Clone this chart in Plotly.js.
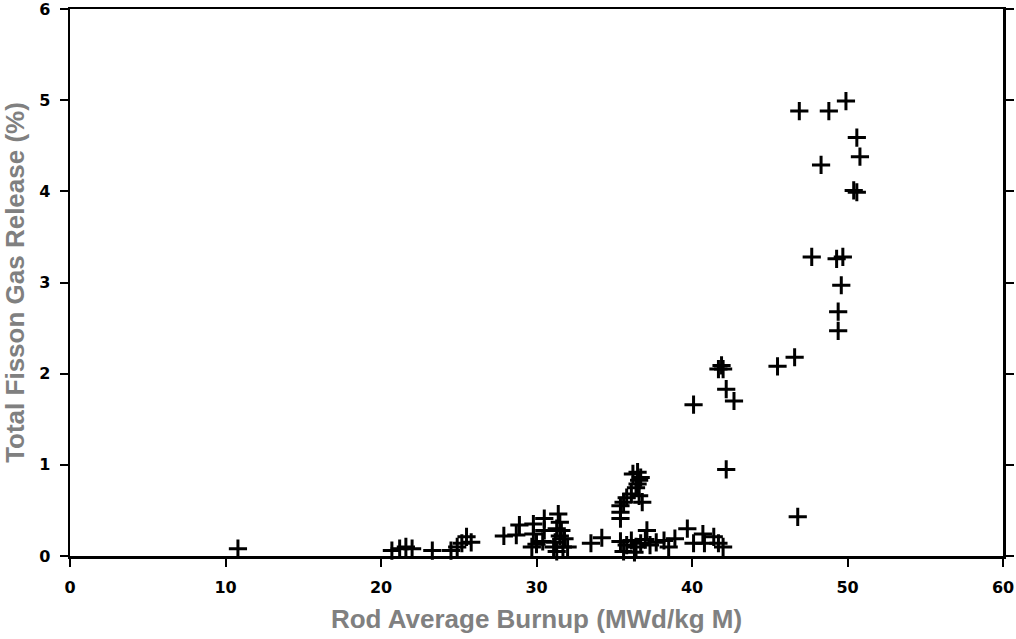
<!DOCTYPE html>
<html>
<head>
<meta charset="utf-8">
<script src="https://cdn.plot.ly/plotly-3.0.1.min.js"></script>
<style>html,body{margin:0;padding:0;background:#fff;}#chart{width:1016px;height:639px;}</style>
</head>
<body>
<div id="chart"></div>
<script>
// Rod average burnup (MWd/kg M)
const burnup = [10.8,20.7,21.2,21.6,22.0,23.3,24.5,24.9,25.2,25.5,25.8,27.9,28.7,28.9,29.8,29.8,30.0,29.7,30.5,30.5,30.4,31.1,31.4,31.5,31.6,31.3,31.5,31.8,31.2,31.7,32.0,31.3,33.5,34.2,
  35.4,35.4,35.4,35.6,35.8,36.1,36.4,36.2,36.5,36.6,36.7,36.6,36.8,36.5,
  35.4,35.8,36.1,36.4,36.7,37.0,37.3,37.7,38.2,38.5,37.1,38.9,39.7,40.1,40.7,40.8,41.4,41.7,42.0,35.6,36.3,
  40.1,41.7,42.0,41.9,42.2,42.7,42.2,45.5,46.6,46.8,46.9,48.8,49.9,50.6,50.8,48.3,50.4,50.6,47.7,49.3,49.7,49.6,49.4,49.4];
// Total fission gas release (%)
const release = [0.08,0.06,0.08,0.10,0.08,0.06,0.06,0.10,0.14,0.21,0.15,0.22,0.23,0.34,0.35,0.24,0.13,0.10,0.41,0.28,0.16,0.10,0.46,0.37,0.28,0.30,0.22,0.19,0.15,0.10,0.10,0.05,0.14,0.20,
  0.48,0.55,0.41,0.59,0.64,0.68,0.75,0.90,0.92,0.83,0.86,0.66,0.59,0.79,
  0.16,0.12,0.17,0.10,0.14,0.18,0.12,0.15,0.17,0.10,0.28,0.19,0.30,0.14,0.24,0.14,0.21,0.14,0.10,0.05,0.04,
  1.66,2.05,2.05,2.09,1.83,1.70,0.95,2.08,2.18,0.43,4.88,4.88,4.99,4.59,4.38,4.29,4.01,3.99,3.28,3.26,3.28,2.97,2.68,2.47];
const xTicks = [0,10,20,30,40,50,60];
const yTicks = [0,1,2,3,4,5,6];

const trace = {
  x: burnup, y: release, type: 'scatter', mode: 'markers',
  marker: {symbol: 'cross-thin', size: 13, color: '#000', line: {color: '#000', width: 3}},
  hoverinfo: 'x+y', cliponaxis: false
};

const axisCommon = {
  showgrid: false, zeroline: false, showline: true, linecolor: '#000', linewidth: 2.5,
  ticks: 'outside', ticklen: 8, tickwidth: 2, tickcolor: '#000',
  ticklabeloverflow: 'allow',
  tickfont: {family: 'DejaVu Sans, sans-serif', size: 16, color: '#000', weight: 'bold'}
};

const layout = {
  width: 1016, height: 639,
  margin: {l: 70, r: 13, t: 9, b: 83},
  paper_bgcolor: '#fff', plot_bgcolor: '#fff',
  showlegend: false,
  xaxis: Object.assign({}, axisCommon, {
    range: [0, 60], tickvals: xTicks, ticktext: xTicks.map(String), mirror: true,
    ticklabelstandoff: 7,
    title: {text: 'Rod Average Burnup (MWd/kg M)', standoff: 14,
      font: {family: 'Liberation Sans, Arial, sans-serif', size: 26, color: '#808080', weight: 'bold'}}
  }),
  yaxis: Object.assign({}, axisCommon, {
    range: [0, 6], tickvals: yTicks, ticktext: yTicks.map(String), mirror: 'ticks',
    ticklabelstandoff: 6,
    title: {text: 'Total Fisson Gas Release (%)', standoff: 8,
      font: {family: 'Liberation Sans, Arial, sans-serif', size: 26, color: '#808080', weight: 'bold'}}
  })
};

Plotly.newPlot('chart', [trace], layout, {displayModeBar: false, staticPlot: true});
</script>
</body>
</html>
